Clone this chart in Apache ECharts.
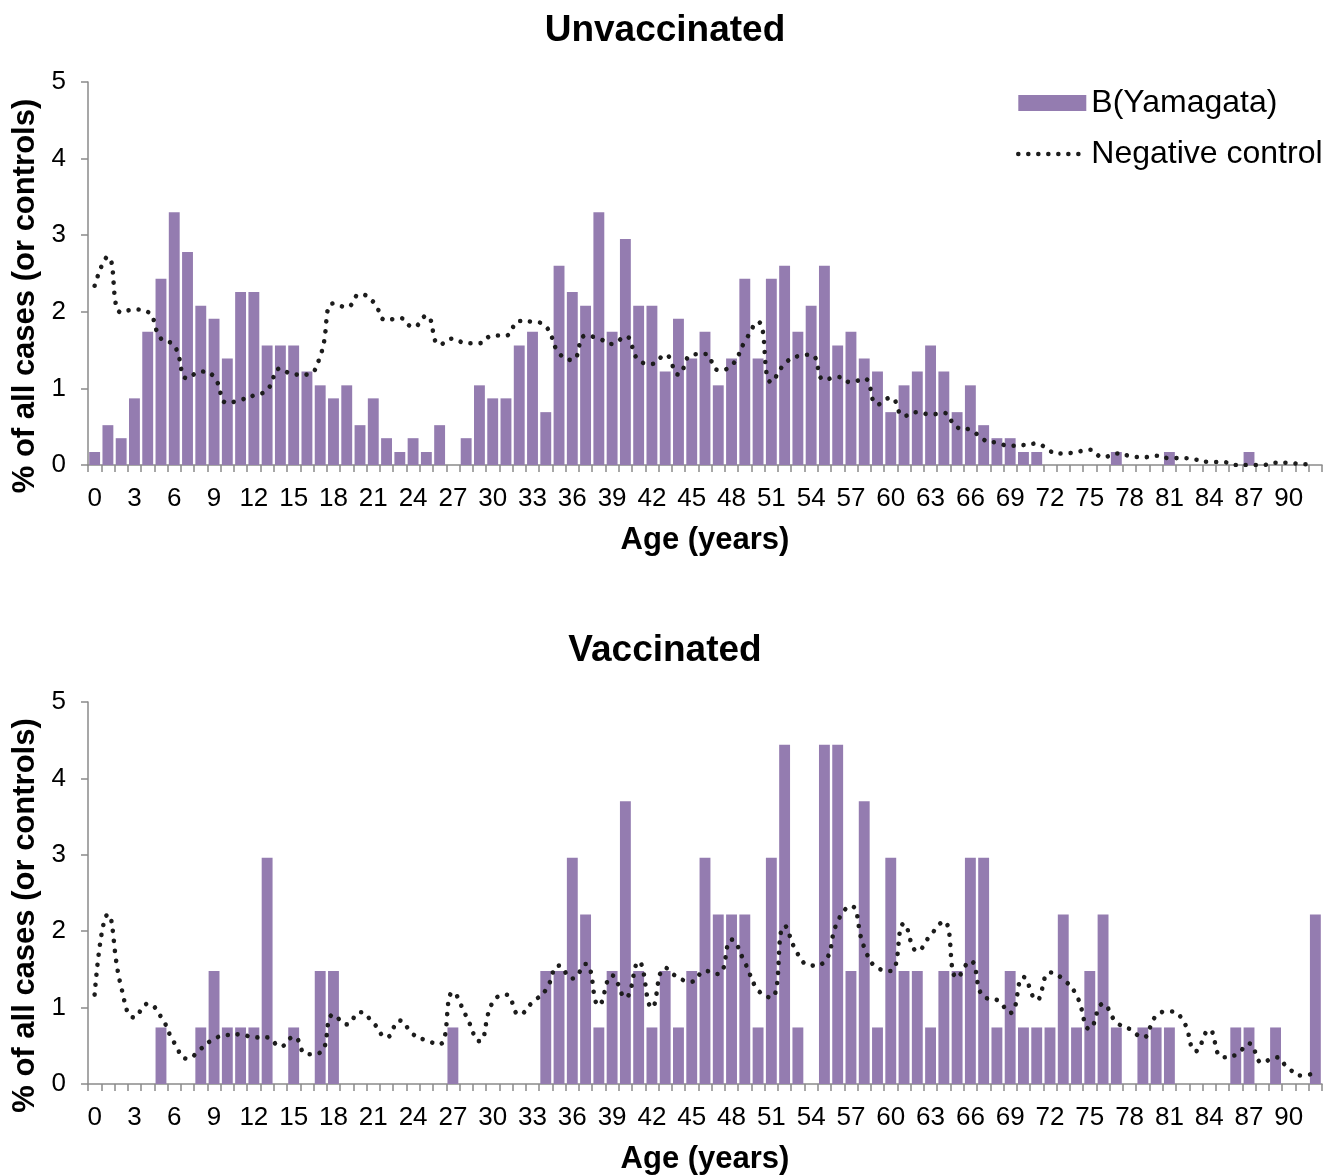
<!DOCTYPE html>
<html>
<head>
<meta charset="utf-8">
<script src="https://cdn.jsdelivr.net/npm/echarts@6/dist/echarts.min.js"></script>
<style>
html,body{margin:0;padding:0;background:#ffffff;}
#chart{width:1325px;height:1176px;}
</style>
</head>
<body>
<div id="chart"></div>
<script>
// ---- data ----
const ages = [0,1,2,3,4,5,6,7,8,9,10,11,12,13,14,15,16,17,18,19,20,21,22,23,24,25,26,27,28,29,
  30,31,32,33,34,35,36,37,38,39,40,41,42,43,44,45,46,47,48,49,50,51,52,53,54,55,56,57,58,59,
  60,61,62,63,64,65,66,67,68,69,70,71,72,73,74,75,76,77,78,79,80,81,82,83,84,85,86,87,88,89,
  90,91,92];

const panelTitles = ['Unvaccinated', 'Vaccinated'];
const seriesNames = ['B(Yamagata)', 'Negative control'];
const xAxisTitle = 'Age (years)';
const yAxisTitle = '% of all cases (or controls)';
const yMin = 0, yMax = 5, yStep = 1;

// Unvaccinated: B(Yamagata) cases (%)
const unvacCases = [0.17,0.52,0.35,0.87,1.74,2.43,3.30,2.78,2.08,1.91,
  1.39,2.26,2.26,1.56,1.56,1.56,1.22,1.04,0.87,1.04,
  0.52,0.87,0.35,0.17,0.35,0.17,0.52,0,0.35,1.04,
  0.87,0.87,1.56,1.74,0.69,2.60,2.26,2.08,3.30,1.74,
  2.95,2.08,2.08,1.22,1.91,1.39,1.74,1.04,1.39,2.43,
  1.39,2.43,2.60,1.74,2.08,2.60,1.56,1.74,1.39,1.22,
  0.69,1.04,1.22,1.56,1.22,0.69,1.04,0.52,0.35,0.35,
  0.17,0.17,0,0,0,0,0,0.17,0,0,
  0,0.17,0,0,0,0,0,0.17,0,0,
  0,0,0];

// Unvaccinated: negative controls (%)
const unvacControls = [2.34,2.72,1.99,2.03,2.00,1.65,1.56,1.13,1.22,1.15,
  0.81,0.85,0.91,0.98,1.26,1.18,1.18,1.42,2.11,2.06,
  2.23,2.13,1.89,1.92,1.80,1.95,1.57,1.65,1.59,1.59,
  1.69,1.69,1.88,1.87,1.81,1.46,1.37,1.69,1.65,1.58,
  1.68,1.37,1.32,1.44,1.18,1.44,1.45,1.24,1.30,1.61,
  1.87,1.08,1.32,1.42,1.44,1.11,1.15,1.08,1.13,0.79,
  0.88,0.64,0.69,0.66,0.68,0.49,0.46,0.33,0.29,0.25,
  0.26,0.28,0.18,0.15,0.17,0.20,0.10,0.15,0.12,0.10,
  0.12,0.09,0.09,0.07,0.04,0.04,0.00,0.00,0.00,0.03,
  0.03,0.01,0.01];

// Vaccinated: B(Yamagata) cases (%)
const vacCases = [0,0,0,0,0,0.74,0,0,0.74,1.48,
  0.74,0.74,0.74,2.96,0,0.74,0,1.48,1.48,0,
  0,0,0,0,0,0,0,0.74,0,0,
  0,0,0,0,1.48,1.48,2.96,2.22,0.74,1.48,
  3.70,1.48,0.74,1.48,0.74,1.48,2.96,2.22,2.22,2.22,
  0.74,2.96,4.44,0.74,0,4.44,4.44,1.48,3.70,0.74,
  2.96,1.48,1.48,0.74,1.48,1.48,2.96,2.96,0.74,1.48,
  0.74,0.74,0.74,2.22,0.74,1.48,2.22,0.74,0,0.74,
  0.74,0.74,0,0,0,0,0.74,0.74,0,0.74,
  0,0,2.22];

// Vaccinated: negative controls (%)
const vacControls = [1.17,2.22,1.27,0.87,1.05,0.88,0.54,0.33,0.46,0.59,
  0.64,0.65,0.61,0.61,0.49,0.62,0.39,0.41,0.91,0.78,
  0.94,0.80,0.61,0.83,0.65,0.57,0.52,1.20,0.89,0.56,
  1.07,1.17,0.91,1.07,1.23,1.55,1.38,1.57,1.03,1.42,
  1.13,1.60,1.00,1.52,1.39,1.34,1.48,1.44,1.89,1.59,
  1.23,1.13,2.07,1.70,1.55,1.60,2.13,2.33,1.79,1.52,
  1.48,2.10,1.74,1.95,2.13,1.39,1.61,1.14,1.10,0.93,
  1.40,1.10,1.46,1.37,1.16,0.72,1.05,0.81,0.72,0.61,
  0.89,0.95,0.84,0.43,0.71,0.35,0.38,0.53,0.28,0.35,
  0.20,0.11,0.15];

// ---- styling ----
const FONT = '"Liberation Sans", Arial, sans-serif';
const axisGray = '#8a8a8a';
const barColor = '#947CB0';
const lineColor = '#1c1c1c';
const dotLine = { color: lineColor, width: 4.6, type: [0.01, 10], cap: 'round' };

function makeXAxis(gridIndex) {
  return {
    type: 'category',
    gridIndex: gridIndex,
    data: ages.map(String),
    boundaryGap: true,
    axisLine: { show: true, lineStyle: { color: axisGray, width: 1.5 } },
    axisTick: { show: true, interval: 0, alignWithLabel: false, length: 7,
      lineStyle: { color: axisGray, width: 1.5 } },
    axisLabel: { interval: 2, color: '#000', fontSize: 26, fontFamily: FONT, margin: 21 },
    splitLine: { show: false },
    name: xAxisTitle,
    nameLocation: 'middle',
    nameGap: 60,
    nameTextStyle: { fontSize: 31, fontWeight: 'bold', color: '#000', fontFamily: FONT }
  };
}

function makeYAxis(gridIndex) {
  return {
    type: 'value',
    gridIndex: gridIndex,
    min: yMin, max: yMax, interval: yStep,
    axisLine: { show: true, lineStyle: { color: axisGray, width: 1.5 } },
    axisTick: { show: true, length: 7, lineStyle: { color: axisGray, width: 1.5 } },
    axisLabel: { color: '#000', fontSize: 26, fontFamily: FONT, margin: 22 },
    splitLine: { show: false },
    name: yAxisTitle,
    nameLocation: 'middle',
    nameGap: 45,
    nameTextStyle: { fontSize: 31, fontWeight: 'bold', color: '#000', fontFamily: FONT,
      padding: [0, 45, 0, 0] }
  };
}

function barSeries(idx, values) {
  return {
    name: seriesNames[0], type: 'bar', xAxisIndex: idx, yAxisIndex: idx,
    data: values, barCategoryGap: '18%',
    itemStyle: { color: barColor },
    z: 2
  };
}

function lineSeries(idx, values) {
  return {
    name: seriesNames[1], type: 'line', xAxisIndex: idx, yAxisIndex: idx,
    data: values, smooth: 0.5, symbol: 'none', showSymbol: false,
    lineStyle: dotLine,
    itemStyle: { color: lineColor },
    z: 3
  };
}

const chart = echarts.init(document.getElementById('chart'), null, { renderer: 'canvas' });
chart.setOption({
  animation: false,
  backgroundColor: '#ffffff',
  title: [
    { text: panelTitles[0], left: 665, top: 12, textAlign: 'center', padding: 0,
      textStyle: { fontSize: 37, fontWeight: 'bold', color: '#000', fontFamily: FONT } },
    { text: panelTitles[1], left: 665, top: 632, textAlign: 'center', padding: 0,
      textStyle: { fontSize: 37, fontWeight: 'bold', color: '#000', fontFamily: FONT } }
  ],
  legend: {
    orient: 'vertical', left: 1016, top: 87, padding: 0,
    itemWidth: 68, itemHeight: 16, itemGap: 19,
    textStyle: { fontSize: 32, color: '#000', fontFamily: FONT },
    data: [
      { name: seriesNames[0], icon: 'rect' },
      { name: seriesNames[1],
        lineStyle: dotLine,
        itemStyle: { color: 'rgba(0,0,0,0)', borderColor: 'rgba(0,0,0,0)', borderWidth: 0, opacity: 0 } }
    ]
  },
  grid: [
    { left: 88, right: 3, top: 82, height: 383, containLabel: false },
    { left: 88, right: 3, top: 702, height: 383, containLabel: false }
  ],
  xAxis: [ makeXAxis(0), makeXAxis(1) ],
  yAxis: [ makeYAxis(0), makeYAxis(1) ],
  series: [
    barSeries(0, unvacCases), lineSeries(0, unvacControls),
    barSeries(1, vacCases), lineSeries(1, vacControls)
  ]
});
</script>
</body>
</html>
